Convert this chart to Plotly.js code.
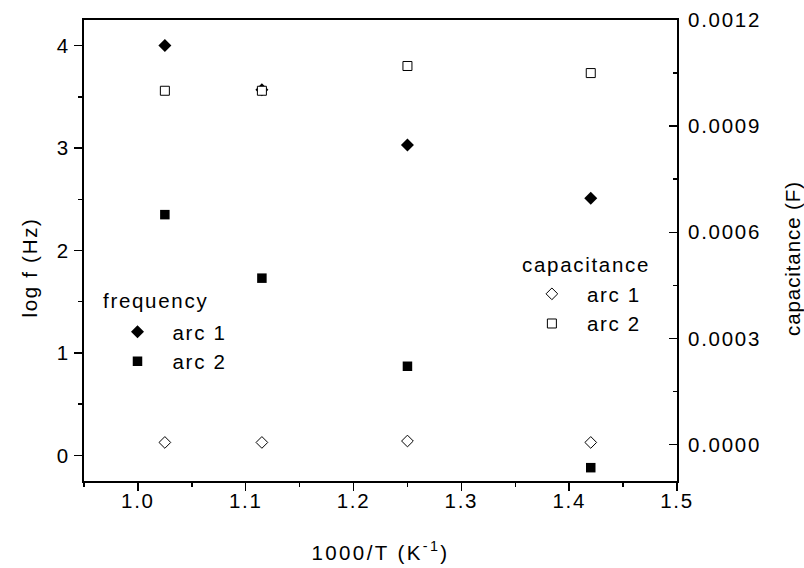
<!DOCTYPE html>
<html><head><meta charset="utf-8">
<script src="https://cdn.plot.ly/plotly-3.0.1.min.js"></script>
<style>html,body{margin:0;padding:0;background:#fff} svg text{letter-spacing:1.7px}
.annotation[data-index="1"] text{letter-spacing:0.9px}
.g-xtitle text{letter-spacing:2.4px}</style>
</head><body>
<div id="chart" style="width:804px;height:568px"></div>
<script>
const invT = [1.025, 1.115, 1.25, 1.42];
const freqArc1 = [4.0, 3.57, 3.03, 2.51];
const freqArc2 = [2.35, 1.73, 0.87, -0.12];
const capArc1 = [0.000006, 0.000006, 0.000010, 0.000006];
const capArc2 = [0.00100, 0.00100, 0.00107, 0.00105];
const xTickVals = [1.0, 1.1, 1.2, 1.3, 1.4, 1.5];
const yTickVals = [0, 1, 2, 3, 4];
const y2TickVals = [0, 0.0003, 0.0006, 0.0009, 0.0012];
const y2TickText = ['0.0000', '0.0003', '0.0006', '0.0009', '0.0012'];

const FONT = 'Liberation Sans, Arial, sans-serif';
const FS = 20.5;
const traces = [
  {x: invT, y: freqArc1, name: 'arc 1', mode: 'markers', legend: 'legend',
   marker: {symbol: 'diamond', size: 10, color: '#000'}},
  {x: invT, y: freqArc2, name: 'arc 2', mode: 'markers', legend: 'legend',
   marker: {symbol: 'square', size: 9.5, color: '#000'}},
  {x: invT, y: capArc1, name: 'arc 1', mode: 'markers', yaxis: 'y2', legend: 'legend2',
   marker: {symbol: 'diamond', size: 9, color: '#fff', line: {color: '#000', width: 1}}},
  {x: invT, y: capArc2, name: 'arc 2', mode: 'markers', yaxis: 'y2', legend: 'legend2',
   marker: {symbol: 'square', size: 9, color: '#fff', line: {color: '#000', width: 1}}}
];
function minorT(vals, len, dir) {
  return {tickvals: vals, ticks: dir || 'outside', ticklen: len, tickcolor: '#000', tickwidth: 1.5};
}
const axisCommon = {showgrid: false, zeroline: false, showline: true, linecolor: '#000', linewidth: 2,
  ticks: 'outside', ticklen: 8, tickwidth: 1.5, tickcolor: '#000',
  tickfont: {family: FONT, size: FS, color: '#000'}};
const layout = {
  width: 804, height: 568,
  margin: {l: 84, r: 127, t: 20, b: 87},
  paper_bgcolor: '#fff', plot_bgcolor: '#fff',
  font: {family: FONT, size: FS, color: '#000'},
  showlegend: true,
  xaxis: Object.assign({}, axisCommon, {range: [0.95, 1.5], tickvals: xTickVals, ticktext: xTickVals.map(v => v.toFixed(1)),
    minor: minorT([0.95, 1.05, 1.15, 1.25, 1.35, 1.45], 4), ticklabelstandoff: -8,
    mirror: true, title: {text: '1000/T (K<sup>-1</sup>)', font: {family: FONT, size: FS}, standoff: 35}}),
  yaxis: Object.assign({}, axisCommon, {range: [-0.25, 4.25], tickvals: yTickVals,
    minor: minorT([0.5, 1.5, 2.5, 3.5], 4)}),
  yaxis2: Object.assign({}, axisCommon, {overlaying: 'y', side: 'right', range: [-0.000103, 0.0012],
    ticks: 'inside', tickvals: y2TickVals, ticktext: y2TickText, ticklabelstandoff: 5,
    minor: minorT([0.00015, 0.00045, 0.00075, 0.00105], 4, 'inside')}),
  annotations: [
    {text: 'log f (Hz)', xref: 'paper', yref: 'paper', x: -0.0919, y: 0.462, textangle: -90,
     showarrow: false, xanchor: 'center', yanchor: 'middle', font: {family: FONT, size: FS}},
    {text: 'capacitance (F)', xref: 'paper', yref: 'paper', x: 1.1937, y: 0.4837, textangle: -90,
     showarrow: false, xanchor: 'center', yanchor: 'middle', font: {family: FONT, size: FS}},
    {text: 'frequency', xref: 'paper', yref: 'paper', x: 0.0287, y: 0.3926,
     showarrow: false, xanchor: 'left', yanchor: 'middle', font: {family: FONT, size: FS}},
    {text: 'capacitance', xref: 'paper', yref: 'paper', x: 0.735, y: 0.4686,
     showarrow: false, xanchor: 'left', yanchor: 'middle', font: {family: FONT, size: FS}}
  ],
  legend: {x: 0.0312, y: 0.367, xanchor: 'left', yanchor: 'top', bgcolor: 'rgba(0,0,0,0)',
    font: {family: FONT, size: FS}, itemwidth: 60},
  legend2: {x: 0.730, y: 0.449, xanchor: 'left', yanchor: 'top', bgcolor: 'rgba(0,0,0,0)',
    font: {family: FONT, size: FS}, itemwidth: 60}
};
Plotly.newPlot('chart', traces, layout, {displayModeBar: false, staticPlot: true});
</script>
</body></html>
